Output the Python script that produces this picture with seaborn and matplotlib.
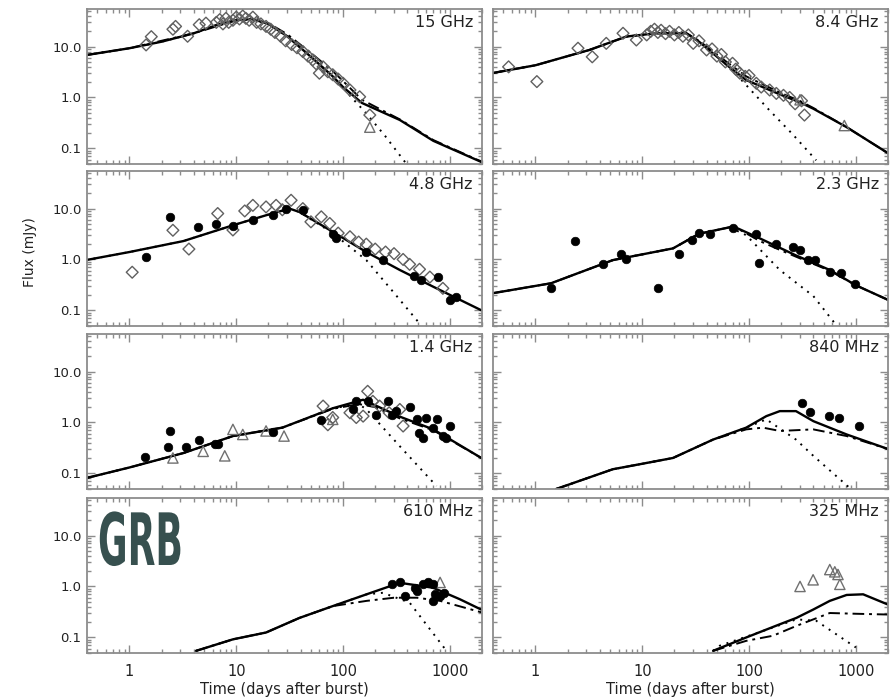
import numpy as np
import pandas as pd
import matplotlib.pyplot as plt
import seaborn as sns
from matplotlib.patheffects import AbstractPathEffect
from matplotlib.transforms import Affine2D
from matplotlib.ticker import LogLocator, FixedLocator, FixedFormatter, NullFormatter

# ---- data (time in days, flux in mJy) ----
bands = ['15 GHz', '8.4 GHz', '4.8 GHz', '2.3 GHz', '1.4 GHz', '840 MHz', '610 MHz', '325 MHz']

# 15 GHz
t15_solid = [0.39, 1, 2, 4, 7, 10, 14, 20, 30, 50, 80, 100, 150, 340, 700, 2000]
f15_solid = [6.8, 9.3, 12.5, 18.3, 28, 33, 35, 28, 16, 6.3, 2.6, 1.6, 0.78, 0.36, 0.14, 0.053]
t15_dash = [0.39, 1, 4, 10, 14, 20, 30, 50, 80, 100, 150, 340, 700, 2000]
f15_dash = [6.8, 9.3, 18.3, 33, 35, 29, 17.5, 7.5, 3.3, 2.1, 0.9, 0.37, 0.145, 0.054]
t15_dot = [0.39, 1, 2, 4, 7, 10, 14, 20, 30, 50, 80, 120, 166, 250, 390]
f15_dot = [6.8, 9.3, 12.5, 18.3, 28, 33, 35, 28, 16, 6.3, 2.6, 1.0, 0.48, 0.17, 0.05]
t15_dia = [1.43, 1.6, 2.55, 2.7, 3.5, 4.5, 5.2, 6.5, 7.0, 7.5, 8.0, 8.5, 9.3, 10, 10.7, 11.5, 12.3,
           13.2, 14.3, 15.5, 17, 19, 21, 23, 26, 29, 33, 37, 42, 47, 52, 56, 60, 65, 72, 80, 90,
           100, 116, 143, 178]
f15_dia = [10.8, 15.7, 22, 25, 16, 27, 29, 30, 34, 28, 36, 30, 33, 38, 35, 40, 36, 33, 38, 30, 28,
           25, 22, 19, 16, 13, 11, 9.5, 8, 6.5, 5.5, 4.6, 3.0, 4.0, 3.2, 2.8, 2.3, 1.9, 1.4, 1.03, 0.45]
t15_tri = [178]
f15_tri = [0.26]

# 8.4 GHz
t84_solid = [0.39, 1, 3.2, 7.1, 13.5, 25.8, 34, 65, 94, 194, 300, 400, 820, 2000]
f84_solid = [3.0, 4.3, 8.6, 15.8, 18.3, 18.3, 12.5, 4.0, 2.2, 1.15, 0.8, 0.6, 0.26, 0.08]
t84_dash = [0.39, 1, 3.2, 7.1, 13.5, 25.8, 34, 65, 94, 194, 300, 400, 820, 2000]
f84_dash = [3.0, 4.3, 8.6, 15.8, 18.3, 18.5, 13, 4.6, 2.6, 1.25, 0.85, 0.62, 0.26, 0.08]
t84_dot = [0.39, 1, 3.2, 7.1, 13.5, 25.8, 34, 65, 94, 155, 255, 425]
f84_dot = [3.0, 4.3, 8.6, 15.8, 18.3, 18.3, 12.5, 4.0, 1.75, 0.56, 0.19, 0.058]
t84_dia = [0.56, 1.03, 2.5, 3.4, 4.6, 6.6, 8.8, 11, 12, 13, 14, 15, 16.5, 18, 20, 22, 24, 27, 30,
           34, 40, 45, 50, 55, 60, 70, 75, 82, 92, 100, 117, 130, 156, 180, 210, 240, 270, 310, 330]
f84_dia = [4.0, 2.05, 9.3, 6.3, 11.6, 18.3, 13.5, 17, 20, 22, 19, 21, 18, 20, 17, 19, 16, 17, 11.6,
           13, 8.6, 9, 6.5, 7, 5, 4.7, 3.6, 3.0, 2.6, 2.7, 1.9, 1.6, 1.4, 1.2, 1.1, 1.0, 0.75, 0.86, 0.45]
t84_tri = [300, 780]
f84_tri = [0.9, 0.28]

# 4.8 GHz
t48_solid = [0.39, 1, 3.2, 9.3, 19, 31.5, 39, 80, 165, 340, 700, 1970]
f48_solid = [0.97, 1.4, 2.3, 4.7, 7.4, 10, 8.6, 3.5, 1.4, 0.62, 0.29, 0.1]
t48_dot = [0.39, 1, 3.2, 9.3, 19, 31.5, 39, 80, 165, 300, 520]
f48_dot = [0.97, 1.4, 2.3, 4.7, 7.4, 10, 8.6, 3.3, 0.97, 0.22, 0.055]
t48_dia = [1.06, 2.55, 3.6, 6.7, 9.3, 12, 14.3, 19, 23.6, 27, 32.6, 42, 50, 62.5, 75, 90, 116, 140,
           165, 200, 250, 300, 365, 420, 520, 650, 860]
f48_dia = [0.56, 3.75, 1.6, 8, 3.8, 9, 11.6, 10.8, 11.6, 9.5, 14.6, 10, 5.5, 6.9, 5.1, 3.3, 2.8, 2.2,
           2.0, 1.6, 1.4, 1.3, 1.0, 0.8, 0.64, 0.45, 0.27]
t48_circ = [1.43, 2.4, 4.4, 6.5, 9.3, 14.3, 22, 29, 42, 80, 86, 165, 236, 460, 540, 770, 1000, 1150]
f48_circ = [1.1, 6.8, 4.4, 5, 4.6, 5.9, 7.4, 10, 9.3, 3.2, 2.7, 1.4, 0.96, 0.47, 0.40, 0.45, 0.16, 0.18]

# 2.3 GHz
t23_solid = [0.39, 1.4, 5.3, 19.4, 34, 66, 76, 126, 275, 570, 1000, 2000]
f23_solid = [0.215, 0.34, 0.97, 1.65, 3.2, 4.3, 4.2, 2.6, 1.2, 0.62, 0.31, 0.16]
t23_dash = [0.39, 1.4, 5.3, 19.4, 34, 66, 76, 126, 200, 300, 570, 1000, 2000]
f23_dash = [0.215, 0.34, 0.97, 1.65, 3.2, 4.3, 4.2, 2.3, 1.5, 1.05, 0.6, 0.31, 0.16]
t23_dot = [0.39, 1.4, 5.3, 19.4, 34, 66, 94, 194, 400, 660]
f23_dot = [0.215, 0.34, 0.97, 1.65, 3.2, 4.3, 3.0, 0.62, 0.19, 0.05]
t23_circ = [1.4, 2.35, 4.3, 6.3, 7.1, 14, 21.9, 29, 34, 43, 70, 117, 124, 180, 260, 300, 355, 410,
            570, 730, 980]
f23_circ = [0.28, 2.3, 0.81, 1.3, 1.0, 0.27, 1.27, 2.45, 3.3, 3.2, 4.2, 3.1, 0.84, 2.0, 1.77, 1.5,
            0.97, 0.97, 0.57, 0.53, 0.33]

# 1.4 GHz
t14_solid = [0.39, 1, 3.2, 9.3, 27, 80, 154, 166, 340, 700, 1970]
f14_solid = [0.08, 0.13, 0.25, 0.54, 0.79, 1.9, 2.8, 2.6, 1.3, 0.73, 0.2]
t14_dash = [0.39, 1, 3.2, 9.3, 27, 80, 140, 200, 340, 700, 1970]
f14_dash = [0.08, 0.13, 0.25, 0.54, 0.79, 1.85, 2.3, 2.0, 1.2, 0.7, 0.2]
t14_dot = [0.39, 1, 3.2, 9.3, 27, 80, 140, 166, 340, 750]
f14_dot = [0.08, 0.13, 0.25, 0.54, 0.79, 1.9, 2.3, 1.8, 0.34, 0.056]
t14_tri = [2.55, 4.9, 7.8, 9.3, 11.5, 19, 28, 80]
f14_tri = [0.20, 0.27, 0.22, 0.73, 0.58, 0.68, 0.54, 1.15]
t14_circ = [1.4, 2.3, 2.4, 3.4, 4.5, 6.3, 6.7, 22, 62.5, 124, 133, 170, 205, 265, 285, 315, 420,
            490, 510, 560, 600, 700, 750, 860, 930, 1000]
f14_circ = [0.21, 0.33, 0.68, 0.33, 0.45, 0.38, 0.37, 0.66, 1.1, 1.8, 2.6, 2.6, 1.43, 2.6, 1.43,
            1.66, 2.0, 1.15, 0.63, 0.5, 1.25, 0.78, 1.15, 0.54, 0.5, 0.85]
t14_dia = [65, 72, 80, 116, 133, 154, 170, 190, 220, 270, 340, 365]
f14_dia = [2.1, 0.9, 1.25, 1.55, 1.25, 1.33, 4.1, 2.6, 2.1, 1.55, 1.8, 0.85]

# 840 MHz
t840_solid = [1.56, 5.3, 9.4, 19.4, 46, 94, 145, 194, 275, 400, 820, 2000]
f840_solid = [0.049, 0.12, 0.15, 0.2, 0.46, 0.79, 1.33, 1.67, 1.67, 1.06, 0.58, 0.30]
t840_dash = [1.56, 5.3, 9.4, 19.4, 46, 94, 135, 194, 400, 820, 2000]
f840_dash = [0.049, 0.12, 0.15, 0.2, 0.46, 0.73, 0.79, 0.68, 0.73, 0.54, 0.30]
t840_dot = [1.56, 5.3, 9.4, 19.4, 46, 94, 145, 275, 400, 870]
f840_dot = [0.049, 0.12, 0.15, 0.2, 0.46, 0.79, 1.15, 0.46, 0.22, 0.052]
t840_circ = [310, 370, 560, 700, 1080]
f840_circ = [2.4, 1.6, 1.33, 1.23, 0.85]

# 610 MHz
t610_solid = [4.2, 9.3, 19, 39, 80, 166, 340, 700, 1240, 1970]
f610_solid = [0.054, 0.091, 0.124, 0.24, 0.41, 0.70, 1.18, 0.94, 0.56, 0.35]
t610_dash = [4.2, 9.3, 19, 39, 80, 166, 300, 490, 810, 1970]
f610_dash = [0.054, 0.091, 0.124, 0.24, 0.41, 0.52, 0.6, 0.6, 0.52, 0.31]
t610_dot = [4.2, 9.3, 19, 39, 80, 166, 236, 420, 930]
f610_dot = [0.054, 0.091, 0.124, 0.24, 0.41, 0.70, 0.75, 0.48, 0.054]
t610_circ = [285, 340, 380, 470, 490, 560, 620, 700, 720, 700, 810, 890]
f610_circ = [1.1, 1.23, 0.64, 0.94, 0.81, 1.1, 1.23, 1.1, 0.72, 0.52, 0.64, 0.75]
t610_tri = [810]
f610_tri = [1.2]

# 325 MHz
t325_solid = [46, 94, 194, 277, 398, 570, 820, 1170, 2000]
f325_solid = [0.054, 0.099, 0.18, 0.24, 0.35, 0.52, 0.68, 0.70, 0.44]
t325_dash = [46, 94, 167, 277, 570, 1000, 2000]
f325_dash = [0.054, 0.085, 0.107, 0.167, 0.30, 0.29, 0.28]
t325_dot = [46, 53, 135, 277, 427, 1000]
f325_dot = [0.054, 0.068, 0.133, 0.225, 0.21, 0.063]
t325_tri = [300, 398, 570, 635, 680, 708]
f325_tri = [1.0, 1.35, 2.15, 1.94, 1.72, 1.1]

panels = [
    dict(solid=(t15_solid, f15_solid), dash=(t15_dash, f15_dash), dot=(t15_dot, f15_dot),
         dia=(t15_dia, f15_dia), tri=(t15_tri, f15_tri)),
    dict(solid=(t84_solid, f84_solid), dash=(t84_dash, f84_dash), dot=(t84_dot, f84_dot),
         dia=(t84_dia, f84_dia), tri=(t84_tri, f84_tri)),
    dict(solid=(t48_solid, f48_solid), dot=(t48_dot, f48_dot),
         dia=(t48_dia, f48_dia), circ=(t48_circ, f48_circ)),
    dict(solid=(t23_solid, f23_solid), dash=(t23_dash, f23_dash), dot=(t23_dot, f23_dot),
         circ=(t23_circ, f23_circ)),
    dict(solid=(t14_solid, f14_solid), dash=(t14_dash, f14_dash), dot=(t14_dot, f14_dot),
         dia=(t14_dia, f14_dia), circ=(t14_circ, f14_circ), tri=(t14_tri, f14_tri)),
    dict(solid=(t840_solid, f840_solid), dash=(t840_dash, f840_dash), dot=(t840_dot, f840_dot),
         circ=(t840_circ, f840_circ)),
    dict(solid=(t610_solid, f610_solid), dash=(t610_dash, f610_dash), dot=(t610_dot, f610_dot),
         circ=(t610_circ, f610_circ), tri=(t610_tri, f610_tri)),
    dict(solid=(t325_solid, f325_solid), dash=(t325_dash, f325_dash), dot=(t325_dot, f325_dot),
         tri=(t325_tri, f325_tri)),
]

x_ticks = [1, 10, 100, 1000]
x_ticklabels = ['1', '10', '100', '1000']
y_ticks = [0.1, 1, 10]
y_ticklabels = ['0.1', '1.0', '10.0']


class Squeeze(AbstractPathEffect):
    """squash a text horizontally (the GRB stamp is a condensed face)"""
    def __init__(self, sx, x0):
        super().__init__()
        self.sx, self.x0 = sx, x0

    def draw_path(self, renderer, gc, tpath, affine, rgbFace=None):
        sq = Affine2D().translate(-self.x0, 0).scale(self.sx, 1).translate(self.x0, 0)
        renderer.draw_path(gc, tpath, affine + sq, rgbFace)


sns.set_style('ticks')
plt.rcParams['font.family'] = ['DejaVu Sans']

W, H = 894, 700
fig = plt.figure(figsize=(W / 100, H / 100), dpi=100)

frame = '#8c8c8c'
lefts = [87, 493]
tops = [9, 171, 334, 498]
pw, ph = 395, 155

for i, (band, p) in enumerate(zip(bands, panels)):
    row, col = divmod(i, 2)
    ax = fig.add_axes([lefts[col] / W, 1 - (tops[row] + ph) / H, pw / W, ph / H])
    ax.set(xscale='log', yscale='log')

    t, f = p['dot']
    sns.lineplot(x=t, y=f, ax=ax, color='k', lw=1.4, linestyle=(0, (1, 3)),
                 estimator=None, sort=False)
    if 'dash' in p:
        t, f = p['dash']
        sns.lineplot(x=t, y=f, ax=ax, color='k', lw=1.4, linestyle=(0, (6, 2.5, 1.5, 2.5)),
                     estimator=None, sort=False)
    t, f = p['solid']
    sns.lineplot(x=t, y=f, ax=ax, color='k', lw=1.7, estimator=None, sort=False)

    if 'dia' in p:
        t, f = p['dia']
        sns.scatterplot(x=t, y=f, ax=ax, marker='D', s=36, facecolor='none',
                        edgecolor='#606060', linewidth=1.0, zorder=3)
    if 'tri' in p:
        t, f = p['tri']
        sns.scatterplot(x=t, y=f, ax=ax, marker='^', s=55, facecolor='none',
                        edgecolor='#707070', linewidth=1.0, zorder=3)
    if 'circ' in p:
        t, f = p['circ']
        sns.scatterplot(x=t, y=f, ax=ax, marker='o', s=38, color='black',
                        edgecolor='black', linewidth=0.5, zorder=4)

    ax.set_xlim(0.4, 2000)
    ax.set_ylim(0.049, 55)
    ax.xaxis.set_major_locator(FixedLocator(x_ticks))
    ax.yaxis.set_major_locator(FixedLocator(y_ticks))
    ax.xaxis.set_minor_locator(LogLocator(base=10, subs=np.arange(2, 10)))
    ax.yaxis.set_minor_locator(LogLocator(base=10, subs=np.arange(2, 10)))
    ax.xaxis.set_minor_formatter(NullFormatter())
    ax.yaxis.set_minor_formatter(NullFormatter())
    if row == 3:
        ax.xaxis.set_major_formatter(FixedFormatter(x_ticklabels))
        ax.set_xlabel('Time (days after burst)', fontsize=10.5, color='#222', labelpad=2)
    else:
        ax.xaxis.set_major_formatter(NullFormatter())
    if col == 0:
        ax.yaxis.set_major_formatter(FixedFormatter(y_ticklabels))
    else:
        ax.yaxis.set_major_formatter(NullFormatter())
    ax.set_ylabel('')

    ax.tick_params(which='both', direction='in', top=True, right=True, color=frame, width=1.0)
    ax.tick_params(which='major', length=6)
    ax.tick_params(which='minor', length=3)
    ax.tick_params(axis='y', labelsize=9.5, labelcolor='#222', pad=4)
    ax.tick_params(axis='x', labelsize=10.5, labelcolor='#222', pad=8)
    for s in ax.spines.values():
        s.set_color(frame)
        s.set_linewidth(1.3)

    ax.text(0.977, 0.91, band, transform=ax.transAxes, ha='right', va='center',
            fontsize=11.5, color='#222')

fig.text(30 / W, 1 - 252 / H, 'Flux (mJy)', rotation=90, ha='center', va='center',
         fontsize=10, color='#222')

grb = fig.text(98 / W, 1 - 565 / H, 'GRB', fontsize=52, color='#37504f', weight='bold',
               family=['Liberation Sans Narrow', 'DejaVu Sans'], va='baseline', ha='left')
fig.canvas.draw()
bb = grb.get_window_extent()
grb.set_path_effects([Squeeze(85 / bb.width, bb.x0)])

fig.savefig('out.png', dpi=100)
